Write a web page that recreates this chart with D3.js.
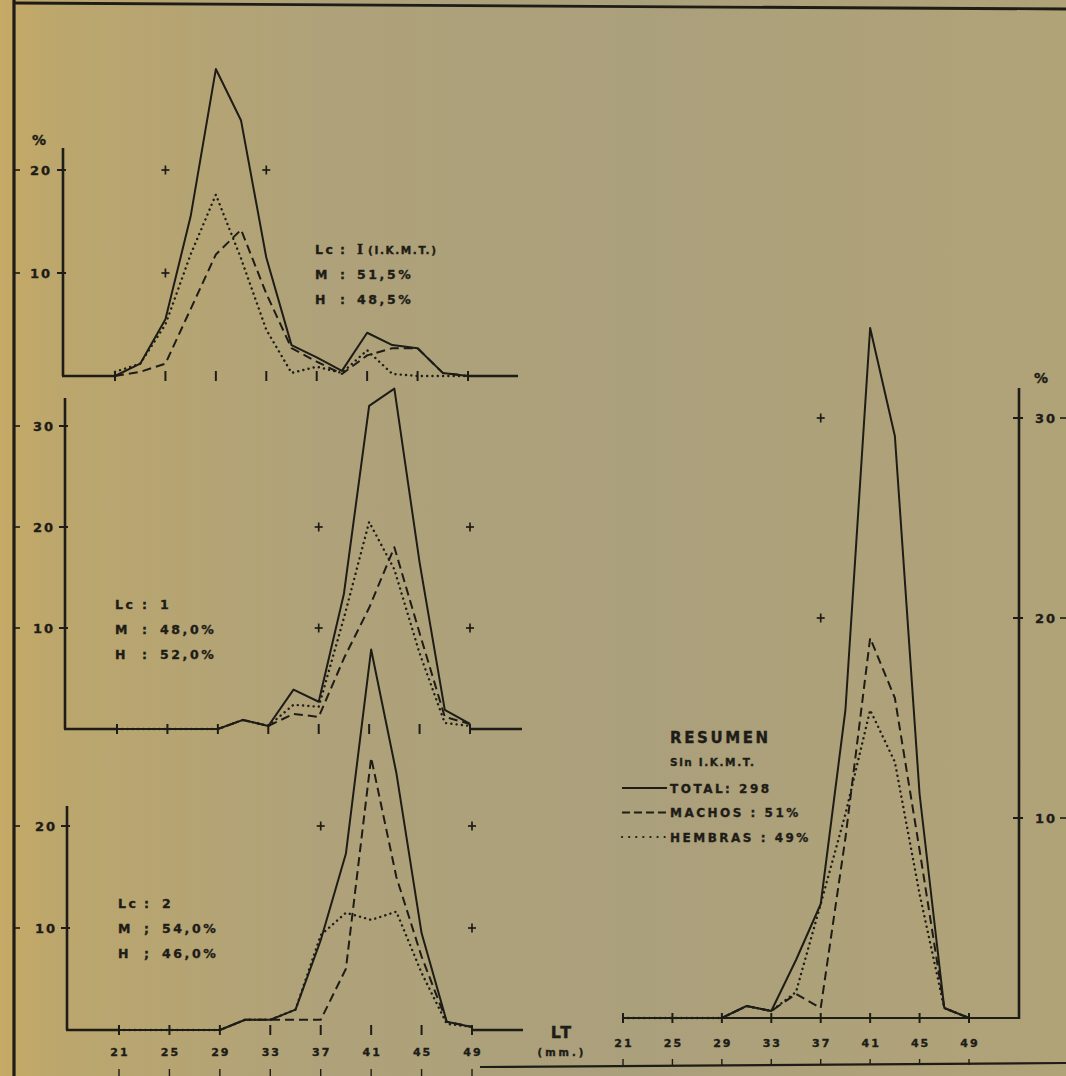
<!DOCTYPE html>
<html>
<head>
<meta charset="utf-8">
<script src="https://cdn.jsdelivr.net/npm/d3@7/dist/d3.min.js"></script>
<style>
  html, body { margin: 0; padding: 0; background: #ad9f77; }
  svg { display: block; }
  text { font-family: "DejaVu Sans", sans-serif; font-weight: bold; fill: #1e1c16;
         stroke: #1e1c16; stroke-width: 0.35; paint-order: stroke; }
</style>
</head>
<body>
<script>
// ---------------- DATA ----------------
const lengths = [21, 23, 25, 27, 29, 31, 33, 35, 37, 39, 41, 43, 45, 47, 49];
const xTickLabels = [21, 25, 29, 33, 37, 41, 45, 49];

// Panel "Lc: I (I.K.M.T.)"
const totalLcI   = [0, 1.2, 5.5, 15.5, 29.8, 24.8, 11.5, 3.0, 1.8, 0.5, 4.2, 3.0, 2.7, 0.3, 0];
const machosLcI  = [0, 0.4, 1.2, 6.5, 11.8, 14.2, 8.0, 2.7, 1.4, 0.2, 2.0, 2.7, 2.7, 0.3, 0];
const hembrasLcI = [0.4, 1.2, 5.0, 11.8, 17.6, 11.4, 4.5, 0.3, 0.9, 0.3, 2.5, 0.2, 0, 0, 0];

// Panel "Lc: 1"
const totalLc1   = [0, 0, 0, 0, 0, 0.9, 0.3, 3.9, 2.7, 13.4, 32.0, 33.7, 16.5, 1.9, 0.5];
const machosLc1  = [0, 0, 0, 0, 0, 0.9, 0.3, 1.5, 1.2, 7.0, 12.0, 18.0, 9.5, 1.2, 0.5];
const hembrasLc1 = [0, 0, 0, 0, 0, 0.9, 0.3, 2.4, 2.2, 11.0, 20.5, 15.8, 7.5, 0.6, 0.3];

// Panel "Lc: 2"
const totalLc2   = [0, 0, 0, 0, 0, 1.0, 1.0, 2.0, 8.8, 17.3, 37.3, 25.2, 9.5, 0.8, 0.3];
const machosLc2  = [0, 0, 0, 0, 0, 1.0, 1.0, 1.0, 1.0, 6.0, 26.7, 15.0, 7.2, 0.8, 0.3];
const hembrasLc2 = [0, 0, 0, 0, 0, 1.0, 1.0, 2.0, 9.3, 11.5, 10.8, 11.6, 5.6, 0.6, 0.3];

// RESUMEN (Sin I.K.M.T.)
const totalRes   = [0, 0, 0, 0, 0, 0.6, 0.35, 2.9, 5.7, 15.4, 34.5, 29.1, 11.2, 0.5, 0];
const machosRes  = [0, 0, 0, 0, 0, 0.6, 0.35, 1.2, 0.5, 9.0, 19.0, 16.0, 8.4, 0.5, 0];
const hembrasRes = [0, 0, 0, 0, 0, 0.6, 0.35, 1.3, 5.7, 10.2, 15.4, 12.8, 6.2, 0.5, 0];

// y tick values per panel
const yTicksLcI = [10, 20];
const yTicksLc1 = [10, 20, 30];
const yTicksLc2 = [10, 20];
const yTicksRes = [10, 20, 30];

// reference "+" marks [length, percent]
const crossesLcI = [[25, 20], [33, 20], [25, 10]];
const crossesLc1 = [[37, 20], [49, 20], [37, 10], [49, 10]];
const crossesLc2 = [[37, 20], [49, 20], [49, 10]];
const crossesRes = [[37, 30], [37, 20]];

// text
const infoLcI = [["Lc", ":", "I", "(I.K.M.T.)"], ["M", ":", "51,5%"], ["H", ":", "48,5%"]];
const infoLc1 = [["Lc", ":", "1"], ["M", ":", "48,0%"], ["H", ":", "52,0%"]];
const infoLc2 = [["Lc", ":", "2"], ["M", ";", "54,0%"], ["H", ";", "46,0%"]];
const legendTitle = "RESUMEN";
const legendSub = "Sin I.K.M.T.";
const legendItems = ["TOTAL:  298", "MACHOS :  51%", "HEMBRAS : 49%"];

// ---------------- LAYOUT ----------------
const W = 1066, H = 1076;
const ink = "#1e1c16";

const svg = d3.select("body").append("svg").attr("width", W).attr("height", H);

// paper background
const defs = svg.append("defs");
const grad = defs.append("linearGradient").attr("id", "paper").attr("x1", 0).attr("x2", 1).attr("y1", 0).attr("y2", 0);
[[0, "#c6aa66"], [0.06, "#bba66d"], [0.3, "#afa27a"], [0.6, "#aba07c"], [1, "#b1a378"]].forEach(([o, c]) =>
  grad.append("stop").attr("offset", o).attr("stop-color", c));
svg.append("rect").attr("width", W).attr("height", H).attr("fill", "url(#paper)");

// frame
svg.append("line").attr("x1", 14).attr("y1", 0).attr("x2", 14).attr("y2", H)
  .attr("stroke", ink).attr("stroke-width", 3.2);
svg.append("line").attr("x1", 14).attr("y1", 3).attr("x2", W).attr("y2", 9)
  .attr("stroke", ink).attr("stroke-width", 2.8);
svg.append("line").attr("x1", 480).attr("y1", 1067).attr("x2", W).attr("y2", 1063)
  .attr("stroke", ink).attr("stroke-width", 2.2);

const styles = {
  total:   { dash: null,        width: 2.0, cap: "butt" },
  machos:  { dash: "9,5",       width: 2.0, cap: "butt" },
  hembras: { dash: "0.1,5.2",   width: 2.4, cap: "round" }
};

function drawSeries(g, x, y, values, style) {
  const line = d3.line().x((d, i) => x(lengths[i])).y(d => y(d));
  g.append("path").datum(values).attr("d", line)
    .attr("fill", "none").attr("stroke", ink)
    .attr("stroke-width", style.width)
    .attr("stroke-dasharray", style.dash)
    .attr("stroke-linecap", style.cap)
    .attr("stroke-linejoin", "round");
}

function drawCrosses(g, x, y, pts) {
  pts.forEach(([lx, v]) => {
    g.append("line").attr("x1", x(lx) - 4).attr("x2", x(lx) + 4).attr("y1", y(v)).attr("y2", y(v))
      .attr("stroke", ink).attr("stroke-width", 1.7);
    g.append("line").attr("x1", x(lx)).attr("x2", x(lx)).attr("y1", y(v) - 4.5).attr("y2", y(v) + 4.5)
      .attr("stroke", ink).attr("stroke-width", 1.7);
  });
}

function drawInfo(g, rows, x0, yc, offs) {
  rows.forEach((r, i) => {
    const yy = yc + i * 25 + 4.5;
    r.forEach((t, j) => {
      const tx = g.append("text").attr("x", x0 + offs[j]).attr("y", yy)
        .attr("font-size", 12.5).attr("letter-spacing", 2.6).text(t);
      if (j === 2 && t === "I" && r.length === 4) tx.style("font-family", "DejaVu Serif").attr("font-size", 13);
      if (j === 3) tx.attr("font-size", 10.5).attr("letter-spacing", 1.6);
    });
  });
}

// ---------- left panels ----------
const leftPanels = [
  { total: totalLcI, machos: machosLcI, hembras: hembrasLcI, ticks: yTicksLcI, crosses: crossesLcI, info: infoLcI,
    x21: 115, x49: 468, y0: 376, y10: 273, axisX: 63, axisTop: 148, extEnd: 518, labelX: 41, pct: true,
    infoX: 315, infoOffs: [0, 25, 42, 53], infoRow: 249 },
  { total: totalLc1, machos: machosLc1, hembras: hembrasLc1, ticks: yTicksLc1, crosses: crossesLc1, info: infoLc1,
    x21: 117, x49: 470, y0: 729, y10: 628, axisX: 65, axisTop: 398, extEnd: 522, labelX: 44,
    infoX: 115, infoOffs: [0, 27, 45], infoRow: 604 },
  { total: totalLc2, machos: machosLc2, hembras: hembrasLc2, ticks: yTicksLc2, crosses: crossesLc2, info: infoLc2,
    x21: 119, x49: 472, y0: 1030, y10: 928, axisX: 67, axisTop: 806, extEnd: 523, labelX: 46, bottomLabels: true,
    infoX: 118, infoOffs: [0, 26, 44], infoRow: 903 }
];

leftPanels.forEach(p => {
  const g = svg.append("g");
  const x = d3.scaleLinear().domain([21, 49]).range([p.x21, p.x49]);
  const y = d3.scaleLinear().domain([0, 10]).range([p.y0, p.y10]);

  // y axis
  g.append("line").attr("x1", p.axisX).attr("x2", p.axisX).attr("y1", p.axisTop).attr("y2", y(0))
    .attr("stroke", ink).attr("stroke-width", 2.6);
  // baseline pieces
  g.append("line").attr("x1", p.axisX - 1).attr("x2", x(21)).attr("y1", y(0)).attr("y2", y(0))
    .attr("stroke", ink).attr("stroke-width", 2.4);
  g.append("line").attr("x1", x(49)).attr("x2", p.extEnd).attr("y1", y(0)).attr("y2", y(0))
    .attr("stroke", ink).attr("stroke-width", 2.4);
  // x ticks
  xTickLabels.forEach(v => {
    g.append("line").attr("x1", x(v)).attr("x2", x(v)).attr("y1", y(0) - 5).attr("y2", y(0) + 5)
      .attr("stroke", ink).attr("stroke-width", 2);
  });
  // y ticks & labels
  p.ticks.forEach(v => {
    g.append("line").attr("x1", p.axisX - 6).attr("x2", p.axisX + 3).attr("y1", y(v)).attr("y2", y(v))
      .attr("stroke", ink).attr("stroke-width", 2);
    g.append("text").attr("x", p.labelX).attr("y", y(v) + 4.8).attr("text-anchor", "middle")
      .attr("font-size", 13).attr("letter-spacing", 2).text(v);
    g.append("line").attr("x1", 15).attr("x2", 20).attr("y1", y(v)).attr("y2", y(v))
      .attr("stroke", ink).attr("stroke-width", 1.6);
  });
  if (p.pct) {
    g.append("text").attr("x", 39).attr("y", 145).attr("text-anchor", "middle")
      .attr("font-size", 14).text("%");
  }
  drawCrosses(g, x, y, p.crosses);
  drawSeries(g, x, y, p.hembras, styles.hembras);
  drawSeries(g, x, y, p.machos, styles.machos);
  drawSeries(g, x, y, p.total, styles.total);
  drawInfo(g, p.info, p.infoX, p.infoRow, p.infoOffs);

  if (p.bottomLabels) {
    xTickLabels.forEach(v => {
      g.append("text").attr("x", x(v) + 1).attr("y", 1056).attr("text-anchor", "middle")
        .attr("font-size", 11).attr("letter-spacing", 2).text(v);
      g.append("line").attr("x1", x(v)).attr("x2", x(v)).attr("y1", 1069).attr("y2", 1076)
        .attr("stroke", ink).attr("stroke-width", 1.4);
    });
    g.append("text").attr("x", 562).attr("y", 1038).attr("text-anchor", "middle")
      .attr("font-size", 16).attr("letter-spacing", 2).text("LT");
    g.append("text").attr("x", 562).attr("y", 1056).attr("text-anchor", "middle")
      .attr("font-size", 10).attr("letter-spacing", 3).text("(mm.)");
  }
});

// ---------- right panel (RESUMEN) ----------
(function () {
  const g = svg.append("g");
  const x = d3.scaleLinear().domain([21, 49]).range([623, 969]);
  const y = d3.scaleLinear().domain([0, 10]).range([1018, 818]);
  const axisX = 1019;

  g.append("line").attr("x1", axisX).attr("x2", axisX).attr("y1", 388).attr("y2", y(0) + 1)
    .attr("stroke", ink).attr("stroke-width", 2.6);
  g.append("line").attr("x1", x(21)).attr("x2", axisX).attr("y1", y(0)).attr("y2", y(0))
    .attr("stroke", ink).attr("stroke-width", 2.2);
  xTickLabels.forEach(v => {
    g.append("line").attr("x1", x(v)).attr("x2", x(v)).attr("y1", y(0) - 5).attr("y2", y(0) + 5)
      .attr("stroke", ink).attr("stroke-width", 2);
    g.append("text").attr("x", x(v) + 1).attr("y", 1047).attr("text-anchor", "middle")
      .attr("font-size", 11).attr("letter-spacing", 2).text(v);
    g.append("line").attr("x1", x(v)).attr("x2", x(v)).attr("y1", 1059).attr("y2", 1065)
      .attr("stroke", ink).attr("stroke-width", 1.4);
  });
  yTicksRes.forEach(v => {
    g.append("line").attr("x1", axisX - 6).attr("x2", axisX + 4).attr("y1", y(v)).attr("y2", y(v))
      .attr("stroke", ink).attr("stroke-width", 2);
    g.append("text").attr("x", 1046).attr("y", y(v) + 4.8).attr("text-anchor", "middle")
      .attr("font-size", 13).attr("letter-spacing", 2).text(v);
    g.append("line").attr("x1", 1060).attr("x2", 1066).attr("y1", y(v)).attr("y2", y(v))
      .attr("stroke", ink).attr("stroke-width", 1.6);
  });
  g.append("text").attr("x", 1041).attr("y", 383).attr("text-anchor", "middle")
    .attr("font-size", 14).text("%");

  drawCrosses(g, x, y, crossesRes);
  drawSeries(g, x, y, hembrasRes, styles.hembras);
  drawSeries(g, x, y, machosRes, styles.machos);
  drawSeries(g, x, y, totalRes, styles.total);

  // legend
  g.append("text").attr("x", 670).attr("y", 743).attr("font-size", 15).attr("letter-spacing", 2.6).text(legendTitle);
  g.append("text").attr("x", 670).attr("y", 766).attr("font-size", 10.5).attr("letter-spacing", 1.6).text(legendSub);
  const lstyles = [styles.total, { dash: "8,4", width: 2, cap: "butt" }, { dash: "0.1,7", width: 2.2, cap: "round" }];
  legendItems.forEach((t, i) => {
    const yy = 788 + i * 24.5;
    g.append("line").attr("x1", 622).attr("x2", 667).attr("y1", yy).attr("y2", yy)
      .attr("stroke", ink).attr("stroke-width", lstyles[i].width)
      .attr("stroke-dasharray", lstyles[i].dash).attr("stroke-linecap", lstyles[i].cap);
    g.append("text").attr("x", 670).attr("y", yy + 4.5).attr("font-size", 12).attr("letter-spacing", 2.5)
      .text(t);
  });
})();
</script>
</body>
</html>
